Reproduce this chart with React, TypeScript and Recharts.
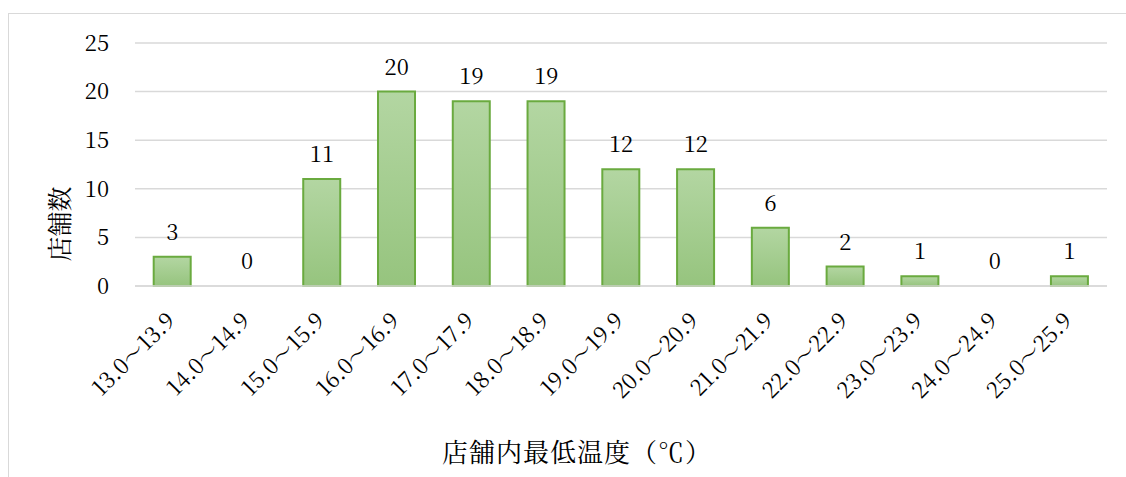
import React from "react";
import { ComposedChart, Bar, Line, XAxis, YAxis, CartesianGrid, LabelList } from "recharts";

const categories = [
  "13.0～13.9", "14.0～14.9", "15.0～15.9", "16.0～16.9", "17.0～17.9",
  "18.0～18.9", "19.0～19.9", "20.0～20.9", "21.0～21.9", "22.0～22.9",
  "23.0～23.9", "24.0～24.9", "25.0～25.9",
];
const counts = [3, 0, 11, 20, 19, 19, 12, 12, 6, 2, 1, 0, 1];
const yTicks = [0, 5, 10, 15, 20, 25];
const yTitle = "店舗数";
const xTitle = "店舗内最低温度（℃）";

const data = categories.map((c, i) => ({ name: c, value: counts[i] }));

const FONT = "'Noto Serif CJK JP', 'DejaVu Serif', serif";

const XTick = (props: any) => {
  const { x, y, payload } = props;
  return (
    <text
      x={0}
      y={0}
      transform={`translate(${x + 4},${y + 28}) rotate(-45)`}
      textAnchor="end"
      fontFamily={FONT}
      fontSize={22}
      fill="#000"
    >
      {payload.value}
    </text>
  );
};

export default function App() {
  return (
    <div style={{ position: "absolute", left: 0, top: 0, width: 1126, height: 477, background: "#fff", overflow: "hidden" }}>
      <div
        style={{
          position: "absolute",
          left: 8,
          top: 13,
          width: 1140,
          height: 480,
          border: "1.5px solid #d9d9d9",
          boxSizing: "border-box",
        }}
      />
      <div style={{ position: "absolute", left: 0, top: 0 }}>
        <ComposedChart
          width={1126}
          height={477}
          data={data}
          margin={{ top: 43, right: 19, left: 0, bottom: 0 }}
          barCategoryGap="25%"
        >
          <defs>
            <linearGradient id="barGrad" x1="0" y1="0" x2="0" y2="1">
              <stop offset="0%" stopColor="#b3d6a2" />
              <stop offset="100%" stopColor="#96c47e" />
            </linearGradient>
          </defs>
          <CartesianGrid vertical={false} stroke="#d9d9d9" strokeWidth={1.5} />
          <XAxis
            dataKey="name"
            axisLine={{ stroke: "#d9d9d9", strokeWidth: 1.5 }}
            tickLine={false}
            interval={0}
            height={191}
            tick={<XTick />}
          />
          <YAxis
            domain={[0, 25]}
            ticks={yTicks}
            width={135}
            axisLine={false}
            tickLine={false}
            tick={{ fontFamily: FONT, fontSize: 22, fill: "#000" }}
            tickMargin={20}
          />
          <Bar
            dataKey="value"
            fill="url(#barGrad)"
            stroke="#6aaa3f"
            strokeWidth={2}
            isAnimationActive={false}
          />
          <Line
            dataKey="value"
            stroke="none"
            dot={false}
            activeDot={false}
            legendType="none"
            isAnimationActive={false}
          >
            <LabelList dataKey="value" position="top" offset={17} fontFamily={FONT} fontSize={22} fill="#000" />
          </Line>
          <text
            x={0}
            y={0}
            transform="translate(69,224) rotate(-90)"
            textAnchor="middle"
            fontFamily={FONT}
            fontSize={25}
            fill="#000"
          >
            {yTitle}
          </text>
          <text
            x={577}
            y={462}
            textAnchor="middle"
            fontFamily={FONT}
            fontSize={26}
            letterSpacing={1}
            fill="#000"
          >
            {xTitle}
          </text>
        </ComposedChart>
      </div>
    </div>
  );
}
